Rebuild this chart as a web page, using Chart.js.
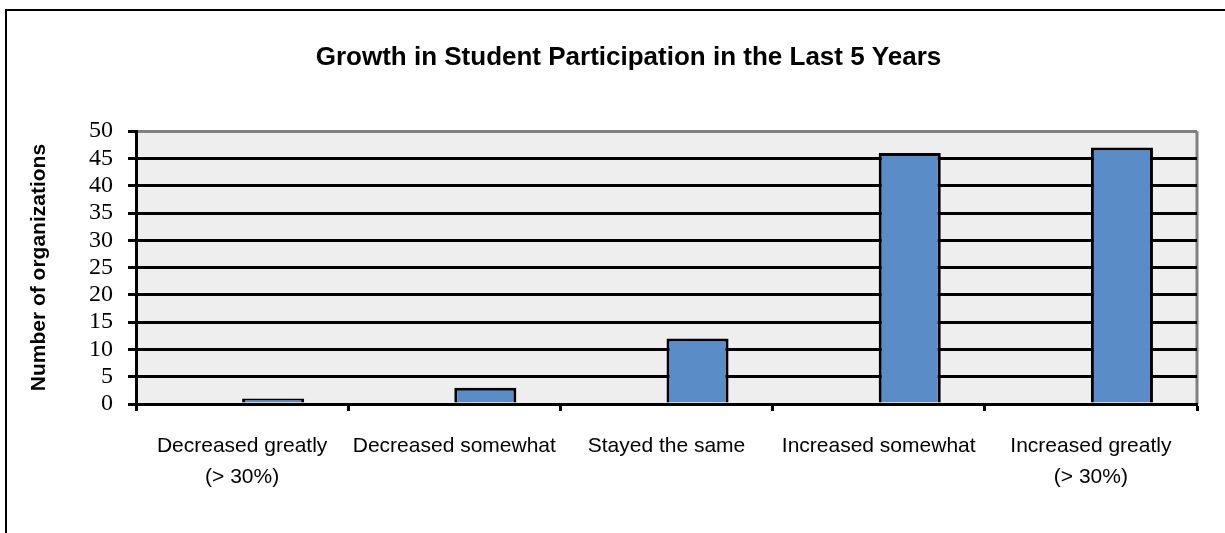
<!DOCTYPE html>
<html>
<head>
<meta charset="utf-8">
<script src="https://cdn.jsdelivr.net/npm/chart.js@4"></script>
<style>
    html, body { margin: 0; padding: 0; background: #fff; overflow: hidden; }
    #wrap { position: relative; width: 1225px; height: 533px; }
    #frame { position: absolute; left: 5px; top: 9px; width: 1300px; height: 600px;
             border-top: 2px solid #000; border-left: 2px solid #000; }
    #chart { position: absolute; left: 0; top: 0; }
</style>
</head>
<body>
<div id="wrap">
    <div id="frame"></div>
    <canvas id="chart" width="1225" height="533"></canvas>
</div>
<script>
const categories = [
    ['Decreased greatly', '(> 30%)'],
    'Decreased somewhat',
    'Stayed the same',
    'Increased somewhat',
    ['Increased greatly', '(> 30%)']
];
const organizations = [1, 3, 12, 46, 47];
// the original chart keeps an empty first series, which pushes the bars right of centre
const emptySeries = [null, null, null, null, null];
const yTicks = { min: 0, max: 50, step: 5 };

const narrow = "'Liberation Sans Narrow', 'Arial Narrow', 'Liberation Sans', sans-serif";

// gray plot area with the gray right edge
const plotArea = {
    id: 'plotArea',
    beforeDraw(chart) {
        const { ctx, chartArea: a } = chart;
        ctx.save();
        ctx.fillStyle = '#eeeeee';
        ctx.fillRect(a.left, a.top, a.right - a.left, a.bottom - a.top);
        ctx.strokeStyle = '#808080';
        ctx.lineWidth = 3;
        ctx.beginPath();
        ctx.moveTo(a.right, a.top);
        ctx.lineTo(a.right, a.bottom);
        ctx.stroke();
        ctx.restore();
    }
};

new Chart(document.getElementById('chart').getContext('2d'), {
    type: 'bar',
    data: {
        labels: categories,
        datasets: [{
            data: emptySeries,
            backgroundColor: 'rgba(0,0,0,0)',
            borderWidth: 0,
            barPercentage: 1,
            categoryPercentage: 0.585
        }, {
            data: organizations,
            backgroundColor: '#5a8dc8',
            borderColor: '#000',
            borderWidth: 3,
            barPercentage: 1,
            categoryPercentage: 0.585
        }]
    },
    options: {
        responsive: false,
        animation: false,
        // left padding wider so the chart title sits where the original has it
        layout: { padding: { left: 60, right: 28, top: 0, bottom: 0 } },
        plugins: {
            legend: { display: false },
            tooltip: { enabled: false },
            title: {
                display: true,
                text: 'Growth in Student Participation in the Last 5 Years',
                color: '#000',
                font: { family: narrow, size: 26, weight: 'bold' },
                padding: { top: 42, bottom: 58 }
            }
        },
        scales: {
            x: {
                grid: {
                    offset: true,
                    drawOnChartArea: false,
                    tickColor: '#000',
                    tickWidth: 3,
                    tickLength: 7
                },
                border: { color: '#000', width: 3 },
                ticks: {
                    color: '#000',
                    padding: 19,
                    maxRotation: 0,
                    font: { family: narrow, size: 21, lineHeight: 1.5 }
                },
                afterFit(scale) { scale.height = 129; }
            },
            y: {
                min: yTicks.min,
                max: yTicks.max,
                ticks: {
                    stepSize: yTicks.step,
                    autoSkip: false,
                    color: '#000',
                    padding: 15,
                    font: { family: "'Liberation Serif', 'Times New Roman', serif", size: 24, lineHeight: 1 }
                },
                grid: {
                    color: ctx => ctx.tick && ctx.tick.value === yTicks.max ? '#808080' : '#000',
                    lineWidth: 3,
                    tickColor: '#000',
                    tickLength: 8
                },
                border: { color: '#000', width: 3 },
                title: {
                    display: true,
                    text: 'Number of organizations',
                    color: '#000',
                    font: { family: narrow, size: 21, weight: 'bold' },
                    padding: { top: -33, bottom: 0 }
                },
                afterFit(scale) { scale.width = 76; }
            }
        }
    },
    plugins: [plotArea]
});
</script>
</body>
</html>
